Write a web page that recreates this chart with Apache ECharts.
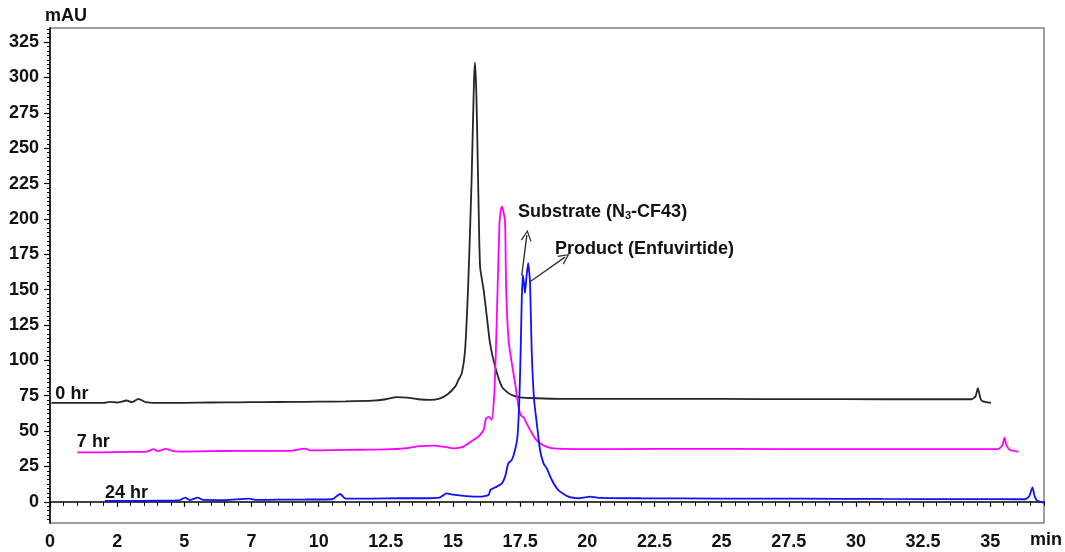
<!DOCTYPE html>
<html>
<head>
<meta charset="utf-8">
<script src="https://cdn.jsdelivr.net/npm/echarts@6/dist/echarts.min.js"></script>
<style>
html,body{margin:0;padding:0;background:#fff;}
#chart{width:1065px;height:552px;}
</style>
</head>
<body>
<div id="chart"></div>
<script>
// ---- data (time in min, absorbance in mAU) ----
const trace0hr = [
  [0.05,70],[1,70],[2,70],[2.23,70.7],[2.5,70.2],[2.85,71.6],[3.05,70.4],[3.29,72.8],[3.55,70.5],[4,70],
  [5,70],[6,70.2],[7,70.3],[8,70.5],[9,70.6],[10,70.8],[11,71],[12,71.5],[12.5,72.5],[12.9,74],
  [13.3,73.6],[13.7,72.5],[14.15,72],[14.5,73],[14.8,76],[15.08,81.4],[15.2,86],[15.33,91],[15.45,107],
  [15.57,155],[15.69,225],[15.78,296],[15.82,310.5],[15.86,295],[15.89,272],[15.95,213],[16.01,166],
  [16.14,150],[16.26,131],[16.38,112],[16.57,95.5],[16.82,81.4],[17.05,77],[17.25,75],[17.5,73.8],
  [18.12,73.2],[19,72.8],[20,72.8],[22,72.7],[25,72.7],[28,72.6],[31,72.5],[34.3,72.5],[34.45,74.5],
  [34.54,80.3],[34.62,74],[34.69,71.3],[35.03,70]
];
const trace7hr = [
  [1.02,35],[2,35],[3,35.3],[3.6,35.5],[3.85,37.3],[4.0,35.8],[4.31,37.4],[4.6,35.8],[5,35.5],[6,35.8],
  [7,36],[8,36],[9,36.2],[9.5,37.6],[9.7,36.3],[10.5,36.5],[11.5,36.8],[12.5,37],[13.3,38],[13.77,39.3],
  [14.27,39.7],[14.7,38.8],[15.02,37.8],[15.39,39],[15.76,43.7],[15.95,46],[16.14,51],[16.23,59],
  [16.33,60],[16.44,58],[16.53,74],[16.59,102.6],[16.66,150],[16.73,197],[16.78,206],[16.82,208.7],
  [16.87,206],[16.94,197],[16.98,150],[17.07,114],[17.19,98],[17.31,84],[17.44,67],[17.53,61],[17.62,60],
  [17.87,50.8],[18.05,45],[18.24,41.4],[18.5,38.8],[18.74,37.8],[19.5,37.3],[21,37.3],[24,37.4],
  [27,37.3],[30,37.3],[33,37.3],[35.3,37.3],[35.45,40],[35.53,45.3],[35.6,40],[35.74,36.6],[36.05,35.4]
];
const trace24hr = [
  [2.05,0.6],[3,0.6],[4,0.8],[4.8,1],[5.03,3],[5.2,1.2],[5.5,3],[5.7,1.3],[6.5,1.2],[7.4,2.2],[7.7,1.3],
  [8.5,1.5],[9.5,1.6],[10.5,1.8],[10.8,5.5],[11,2.2],[12,2.3],[13,2.5],[13.77,2.5],[14.5,3],[14.77,6],
  [15,5],[15.5,4],[16.01,3.6],[16.32,4.8],[16.4,8.5],[16.5,9.5],[16.63,10.7],[16.82,13],[16.94,17.8],
  [17.06,27.2],[17.19,29.6],[17.31,36.6],[17.40,46],[17.47,72],[17.52,107],[17.56,142.7],[17.60,160.4],
  [17.64,155],[17.68,147.5],[17.74,160],[17.80,168.7],[17.84,162],[17.87,154.5],[17.93,107],[18.02,72],
  [18.12,55.5],[18.24,36.6],[18.37,27.2],[18.49,23.7],[18.68,15.4],[18.92,8.3],[19.3,3.6],[19.73,2.5],
  [20.1,3.6],[20.5,2.8],[22,2.5],[25,2.3],[28,2.2],[31,2.0],[34,1.9],[36.3,1.8],[36.45,4],[36.57,10.2],
  [36.65,4],[36.75,0.8],[37,-0.6]
];
const seriesNames = ['0 hr','7 hr','24 hr'];
const xTickValues = [0,2.5,5,7.5,10,12.5,15,17.5,20,22.5,25,27.5,30,32.5,35];
const xTickLabels = ['0','2','5','7','10','12.5','15','17.5','20','22.5','25','27.5','30','32.5','35'];
const yTickValues = [0,25,50,75,100,125,150,175,200,225,250,275,300,325];

// ---- chart ----
const FONT = "'Liberation Sans', Arial, sans-serif";
const FS = 18;
const xMinor = []; for (let v = 0; v <= 37.001; v += 0.5) xMinor.push(+v.toFixed(2));
const yMinor = []; for (let v = -12.5; v <= 335; v += 3.125) yMinor.push(+v.toFixed(3));

const chart = echarts.init(document.getElementById('chart'), null, {renderer:'canvas'});
const labelStyle = {color:'#111', fontFamily:FONT, fontWeight:'bold', fontSize:FS};
const chevron = 'path://M0,10 L5,0 L10,10 L8.7,10 L5,2.6 L1.3,10 Z';

function traceLabel(text, coord){
  return {coord: coord, symbol:'circle', symbolSize:0,
    label:{show:true, formatter:text, position:[0,0], align:'left', verticalAlign:'middle', ...labelStyle}};
}

chart.setOption({
  animation:false,
  backgroundColor:'#fff',
  grid:{left:50, right:21, top:28, bottom:29, show:true, borderColor:'#808080', borderWidth:1.5, containLabel:false},
  xAxis:[
    {type:'value', min:0, max:37,
     axisLine:{show:true, lineStyle:{color:'#000', width:1.5}},
     axisTick:{show:true, customValues:xTickValues, length:5, lineStyle:{color:'#000', width:1.2}},
     axisLabel:{show:true, customValues:xTickValues, margin:10, ...labelStyle,
       formatter:(v)=>{const i = xTickValues.indexOf(v); return i>=0 ? xTickLabels[i] : '';}},
     splitLine:{show:false}},
    {type:'value', min:0, max:37, position:'bottom',
     axisLine:{show:false}, axisLabel:{show:false}, splitLine:{show:false},
     axisTick:{show:true, customValues:xMinor, length:4, lineStyle:{color:'#000', width:1}}}
  ],
  yAxis:[
    {type:'value', min:-15, max:335,
     axisLine:{show:true, lineStyle:{color:'#000', width:1.5}},
     axisTick:{show:true, customValues:yTickValues, length:6, lineStyle:{color:'#000', width:1.2}},
     axisLabel:{show:true, customValues:yTickValues, margin:11, ...labelStyle},
     splitLine:{show:false}},
    {type:'value', min:-15, max:335, position:'left',
     axisLine:{show:false}, axisLabel:{show:false}, splitLine:{show:false},
     axisTick:{show:true, customValues:yMinor, length:3, lineStyle:{color:'#000', width:1}}}
  ],
  graphic:[
    {type:'text', left:45, top:7, style:{text:'mAU', fill:'#111', font:"bold 18px 'Liberation Sans', Arial"}},
    {type:'text', left:1030, top:531, style:{text:'min', fill:'#111', font:"bold 18px 'Liberation Sans', Arial"}}
  ],
  series:[
    {name:seriesNames[0], type:'line', data:trace0hr, showSymbol:false, smooth:0.2,
     lineStyle:{color:'#262626', width:1.8}, itemStyle:{color:'#262626'},
     markPoint:{silent:true, data:[traceLabel(seriesNames[0],[0.2,76.5])]}},
    {name:seriesNames[1], type:'line', data:trace7hr, showSymbol:false, smooth:0.2,
     lineStyle:{color:'#ff00ff', width:1.8}, itemStyle:{color:'#ff00ff'},
     markPoint:{silent:true, data:[traceLabel(seriesNames[1],[1.0,42])]}},
    {name:seriesNames[2], type:'line', data:trace24hr, showSymbol:false, smooth:0.2,
     lineStyle:{color:'#1010ff', width:1.8}, itemStyle:{color:'#1010ff'},
     markPoint:{silent:true, data:[
       traceLabel(seriesNames[2],[2.05,6.5]),
       {coord:[17.42,205], symbol:'circle', symbolSize:0,
        label:{show:true, position:[0,0], align:'left', verticalAlign:'middle', ...labelStyle,
          formatter:'Substrate (N{sub|3}-CF43)',
          rich:{sub:{fontFamily:FONT, fontWeight:'bold', fontSize:11, color:'#111', padding:[9,0,0,0]}}}},
       {coord:[18.8,179], symbol:'circle', symbolSize:0,
        label:{show:true, position:[0,0], align:'left', verticalAlign:'middle', ...labelStyle,
          formatter:'Product (Enfuvirtide)'}}
     ]},
     markLine:{silent:true, symbol:['none', chevron], symbolSize:[11,11], label:{show:false},
       lineStyle:{color:'#333', width:1.4, type:'solid'},
       data:[
         [{coord:[17.56,160]},{coord:[17.75,188.5]}],
         [{coord:[17.87,155.6]},{coord:[19.17,173]}]
       ]}}
  ]
});
</script>
</body>
</html>
